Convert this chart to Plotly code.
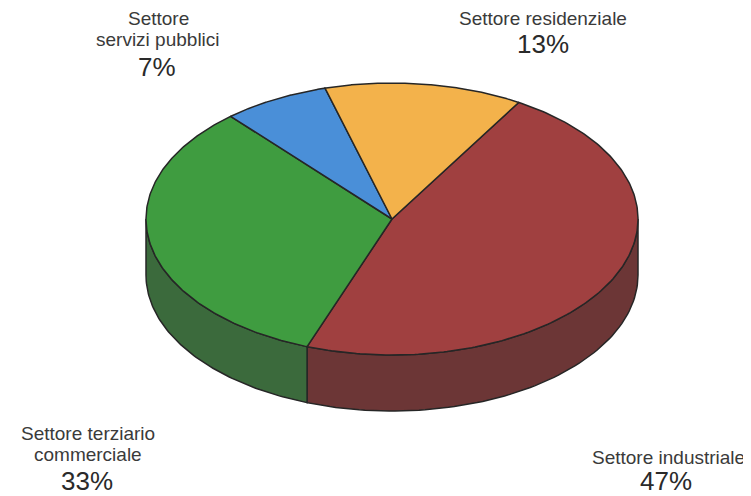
import numpy as np
import plotly.graph_objects as go

# ---- data ----
sectors = ["Settore industriale", "Settore terziario commerciale",
           "Settore servizi pubblici", "Settore residenziale"]
shares = [47, 33, 7, 13]
pct_labels = ["47%", "33%", "7%", "13%"]

# ---- style ----
top_colors = ["#A04040", "#3F9C40", "#4A8FD8", "#F3B24B"]
side_colors = ["#6C3636", "#3B6A3C", "#2F5F99", "#B8822F"]
edge = "#262626"
CX, CY, RX, RY, DEPTH = 392, 219, 246, 136, 56
START = 59.0  # degrees, slices run clockwise
OFF = 8  # page body margin compensation

def pt(theta_deg, dy=0.0):
    t = np.radians(theta_deg)
    return CX + RX * np.cos(t), CY - RY * np.sin(t) + dy

fig = go.Figure()

total = float(sum(shares))
bounds = []
acc = 0.0
for v in shares:
    hi = START - 360 * acc / total
    lo = START - 360 * (acc + v) / total
    bounds.append((lo, hi))
    acc += v

# sides (front half: angles in [-180, 0] mod 360)
for i, (lo, hi) in enumerate(bounds):
    for k in (-1, 0, 1):
        a = max(lo, -180 + 360 * k)
        b = min(hi, 0 + 360 * k)
        if b - a <= 0.01:
            continue
        th = np.linspace(a, b, 80)
        xs_t, ys_t = pt(th)
        xs_b, ys_b = pt(th[::-1], DEPTH)
        xs = np.concatenate([xs_t, xs_b, xs_t[:1]])
        ys = np.concatenate([ys_t, ys_b, ys_t[:1]])
        fig.add_trace(go.Scatter(x=xs, y=ys, mode="lines", fill="toself",
                                 fillcolor=side_colors[i],
                                 line=dict(color=edge, width=1.5),
                                 hoverinfo="skip", showlegend=False))

# top faces
for i, (lo, hi) in enumerate(bounds):
    th = np.linspace(hi, lo, 200)
    xs_a, ys_a = pt(th)
    xs = np.concatenate([[CX], xs_a, [CX]])
    ys = np.concatenate([[CY], ys_a, [CY]])
    fig.add_trace(go.Scatter(x=xs, y=ys, mode="lines", fill="toself",
                             fillcolor=top_colors[i],
                             line=dict(color=edge, width=1.5),
                             name=sectors[i], hoverinfo="name",
                             showlegend=False))

# ---- labels ----
txt = "#3a3a3a"
font_name = dict(family="Liberation Sans, Arial, sans-serif", size=19, color=txt)
font_pct = dict(family="Liberation Sans, Arial, sans-serif", size=26, color="#2a2a2a")

label_lines = {
    0: (["Settore industriale"], (668, 457), (666, 481)),
    1: (["Settore terziario", "commerciale"], (88, 433), (87, 481)),
    2: (["Settore", "servizi pubblici"], (158, 18), (157, 67)),
    3: (["Settore residenziale"], (543, 18), (543, 44)),
}
for i, (lines, (nx, ny), (px, py)) in label_lines.items():
    for j, line in enumerate(lines):
        fig.add_annotation(x=nx, y=ny + 21 * j, text=line, showarrow=False,
                           font=font_name, xanchor="center", yanchor="middle")
    fig.add_annotation(x=px, y=py, text=pct_labels[i], showarrow=False,
                       font=font_pct, xanchor="center", yanchor="middle")

fig.update_layout(
    width=751, height=496,
    margin=dict(l=0, r=0, t=0, b=0),
    paper_bgcolor="white", plot_bgcolor="white",
    xaxis=dict(range=[OFF, 751 + OFF], visible=False, fixedrange=True),
    yaxis=dict(range=[496 + OFF, OFF], visible=False, fixedrange=True),
)
fig.write_html("out.html")
